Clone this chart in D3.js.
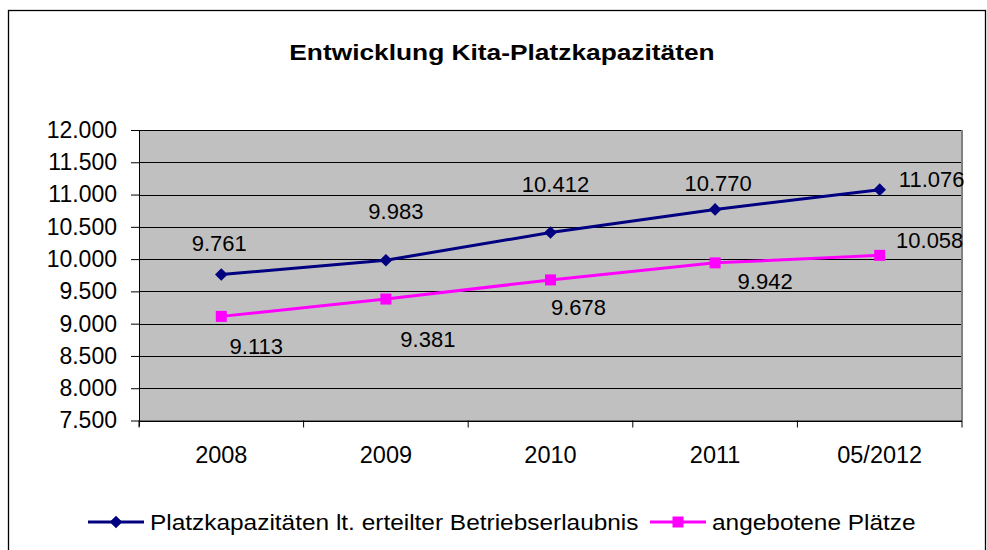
<!DOCTYPE html>
<html><head><meta charset="utf-8">
<script src="https://cdn.jsdelivr.net/npm/d3@7"></script>
<style>body{margin:0;background:#fff}svg{display:block;font-family:"Liberation Sans",Arial,sans-serif}</style>
</head><body><svg id="c" width="987" height="550"></svg>
<script>
const categories = ["2008","2009","2010","2011","05/2012"];
const seriesNames = ["Platzkapazitäten lt. erteilter Betriebserlaubnis","angebotene Plätze"];
const capacity = [9761, 9983, 10412, 10770, 11076];
const offered = [9113, 9381, 9678, 9942, 10058];
const yTicks = [7500,8000,8500,9000,9500,10000,10500,11000,11500,12000];
const title = "Entwicklung Kita-Platzkapazitäten";

// label placement (layout only)
const capLabelOffsets = [[-2,-32],[10,-49],[5,-49],[3,-26],[52,-11]];
const offLabelOffsets = [[35,30],[42,40],[28,27],[50,18],[50,-15]];

const svg = d3.select("#c");
const L=139, R=962, T=130, B=420.5;
const fmt = v => d3.format(",")(v).replace(/,/g,".");

svg.append("rect").attr("x",8.5).attr("y",10.5).attr("width",977).attr("height",560)
  .attr("fill","#fff").attr("stroke","#000").attr("stroke-width",1.3);

svg.append("text").attr("x",502).attr("y",60).attr("text-anchor","middle")
  .attr("font-size",22.5).attr("font-weight","bold")
  .attr("transform","translate(502,0) scale(1.17,1) translate(-502,0)").text(title);

const x = d3.scaleBand().domain(categories).range([L,R]).padding(0);
const y = d3.scaleLinear().domain([7500,12000]).range([B,T]);

svg.append("rect").attr("x",L).attr("y",T).attr("width",R-L).attr("height",B-T).attr("fill","#C0C0C0");
svg.append("g").selectAll("line").data(yTicks).join("line")
  .attr("x1",L).attr("x2",R).attr("y1",d=>Math.round(y(d))+0.5).attr("y2",d=>Math.round(y(d))+0.5)
  .attr("stroke","#000").attr("stroke-width",1);
svg.append("line").attr("x1",R).attr("x2",R).attr("y1",T).attr("y2",B).attr("stroke","#808080").attr("stroke-width",2);

const yAxis = d3.axisLeft(y).tickValues(yTicks).tickFormat(fmt).tickSize(8).tickPadding(14);
const gy = svg.append("g").attr("transform",`translate(${L},0)`).call(yAxis);
gy.select(".domain").attr("stroke","#000").attr("d",`M0.5,${T}V${B+6}`);
gy.selectAll("text").attr("font-size",23).attr("font-family","Liberation Sans, Arial, sans-serif").attr("fill","#000");

const xAxis = d3.axisBottom(x).tickSize(0).tickPadding(26);
const gx = svg.append("g").attr("transform",`translate(0,${B})`).call(xAxis);
gx.select(".domain").attr("stroke","#000").attr("d",`M${L},0.5H${R}`);
gx.selectAll("text").attr("font-size",23.5).attr("font-family","Liberation Sans, Arial, sans-serif").attr("fill","#000");
gx.selectAll(".bnd").data(categories.concat(["end"])).join("line")
  .attr("x1",(d,i)=>i<categories.length?x(d):R).attr("x2",(d,i)=>i<categories.length?x(d):R)
  .attr("y1",0).attr("y2",7).attr("stroke","#000");

const cx = d => x(d)+x.bandwidth()/2;
const line = d3.line().x((d,i)=>cx(categories[i])).y(d=>y(d));

svg.append("path").datum(offered).attr("d",line).attr("fill","none").attr("stroke","#FF00FF").attr("stroke-width",3);
svg.append("path").datum(capacity).attr("d",line).attr("fill","none").attr("stroke","#000080").attr("stroke-width",3);

svg.append("g").selectAll("path").data(capacity).join("path")
  .attr("d", d3.symbol().type(d3.symbolSquare).size(80)())
  .attr("transform",(d,i)=>`translate(${cx(categories[i])},${y(d)}) rotate(45)`)
  .attr("fill","#000080");
svg.append("g").selectAll("rect").data(offered).join("rect")
  .attr("x",(d,i)=>cx(categories[i])-5.5).attr("y",d=>y(d)-5.5).attr("width",11).attr("height",11)
  .attr("fill","#FF00FF");

function labels(vals, offs){
  svg.append("g").selectAll("text").data(vals).join("text")
    .attr("x",(d,i)=>cx(categories[i])+offs[i][0]).attr("y",(d,i)=>y(d)+offs[i][1]+8)
    .attr("text-anchor","middle").attr("font-size",22).attr("fill","#000").text(fmt);
}
labels(capacity, capLabelOffsets);
labels(offered, offLabelOffsets);

// legend
const leg = [{name:seriesNames[0],color:"#000080",shape:"d",x0:88,tx:150},{name:seriesNames[1],color:"#FF00FF",shape:"s",x0:650,tx:712}];
const lg = svg.append("g");
leg.forEach(l=>{
  lg.append("line").attr("x1",l.x0).attr("x2",l.x0+56).attr("y1",522).attr("y2",522).attr("stroke",l.color).attr("stroke-width",3);
  if(l.shape==="d") lg.append("path").attr("d",d3.symbol().type(d3.symbolSquare).size(80)()).attr("transform",`translate(${l.x0+28},522) rotate(45)`).attr("fill",l.color);
  else lg.append("rect").attr("x",l.x0+22.5).attr("y",516.5).attr("width",11).attr("height",11).attr("fill",l.color);
  lg.append("text").attr("x",l.tx).attr("y",530).attr("font-size",22)
    .attr("transform",`translate(${l.tx},0) scale(1.11,1) translate(${-l.tx},0)`).attr("fill","#000").text(l.name);
});
</script></body></html>
